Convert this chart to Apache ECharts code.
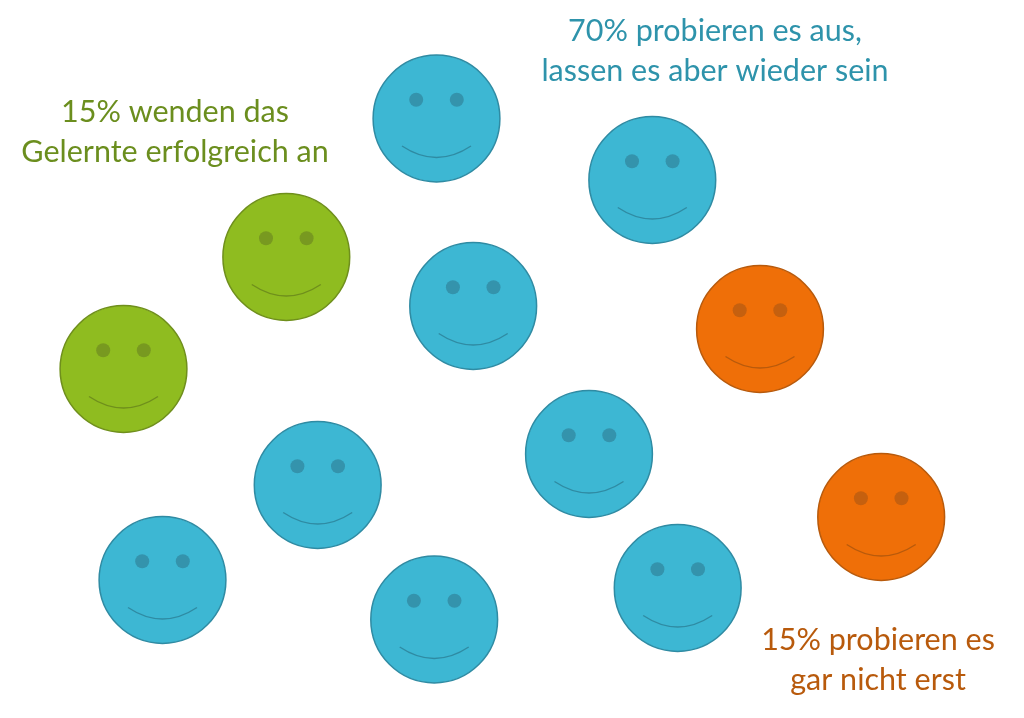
<!DOCTYPE html>
<html><head><meta charset="utf-8"><style>html,body{margin:0;padding:0;background:#fff}#c{width:1024px;height:718px}</style>
<script src="https://cdn.jsdelivr.net/npm/echarts@6/dist/echarts.min.js"></script></head><body><div id="c"></div>
<script>
const greenFaces = [[286.3,257],[123.5,369]];
const blueFaces = [[436.5,118.5],[652.3,180],[473.2,306],[589,454],[317.7,485],[162.5,580],[434.2,619.5],[677.7,588]];
const orangeFaces = [[760,329],[881.2,517]];
const greenText = '15% wenden das\nGelernte erfolgreich an';
const blueText = '70% probieren es aus,\nlassen es aber wieder sein';
const orangeText = '15% probieren es\ngar nicht erst';
const greenTextPos = [175,132.5];
const blueTextPos = [715,51.5];
const orangeTextPos = [878,660];

const chart = echarts.init(document.getElementById('c'));
function faceSeries(name, data, fill, stroke, eye){
  return {
    type:'custom', name, coordinateSystem:'cartesian2d', data, silent:true, clip:false,
    encode:{x:0,y:1},
    renderItem(params, api){
      const c = api.coord([api.value(0), api.value(1)]);
      const k = api.size([1,1])[0];
      const s = {fill:'none', stroke, lineWidth:1.4};
      return {type:'group', children:[
        {type:'circle', shape:{cx:c[0],cy:c[1],r:63.4*k}, style:{fill, stroke, lineWidth:1.5}},
        {type:'circle', shape:{cx:c[0]-20.3*k,cy:c[1]-18.7*k,r:7*k}, style:{fill:eye}},
        {type:'circle', shape:{cx:c[0]+20.3*k,cy:c[1]-18.7*k,r:7*k}, style:{fill:eye}},
        {type:'path', shape:{pathData:`M${c[0]-34.5*k} ${c[1]+27.5*k}Q${c[0]} ${c[1]+50.5*k} ${c[0]+34.5*k} ${c[1]+27.5*k}`}, style:s}
      ]};
    }
  };
}
function textSeries(name, pos, text, color){
  return {type:'scatter', name, data:[pos], symbolSize:0, silent:true, z:5, itemStyle:{opacity:1},
    label:{show:true, position:'inside', formatter:text, color, opacity:1, fontFamily:'Lato', fontSize:30.5, lineHeight:40, align:'center', verticalAlign:'middle'}};
}
chart.setOption({
  animation:false, backgroundColor:'#fff',
  grid:{left:0,right:0,top:0,bottom:0},
  xAxis:{type:'value',min:0,max:1024,show:false},
  yAxis:{type:'value',min:0,max:718,inverse:true,show:false},
  series:[
    faceSeries('Wenden an', greenFaces,'#8FBC20','#6F8F1C','#789920'),
    faceSeries('Probieren aus', blueFaces,'#3DB7D3','#2F8BA3','#3493AC'),
    faceSeries('Nicht probiert', orangeFaces,'#EF6F08','#B85A0C','#C5600F'),
    textSeries('t1', greenTextPos, greenText,'#6B8E1E'),
    textSeries('t2', blueTextPos, blueText,'#2E93AB'),
    textSeries('t3', orangeTextPos, orangeText,'#B85A0C')
  ]
});
</script></body></html>
